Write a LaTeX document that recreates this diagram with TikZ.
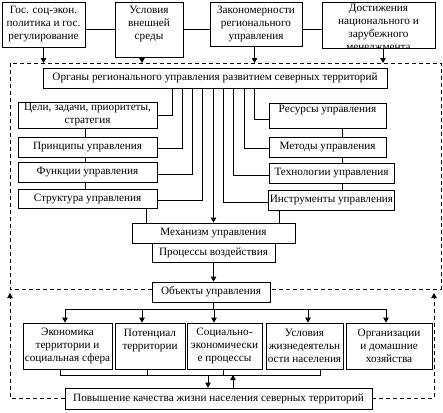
\documentclass[tikz,border=0pt]{standalone}
\usepackage{fontspec}
\setmainfont{Liberation Serif}
\usetikzlibrary{arrows.meta}
\newcommand\fs{\fontsize{11.2}{13}\selectfont}
\tikzset{
  box/.style={draw, inner sep=1pt, align=center, font=\fs},
  txt/.style={inner sep=1pt, align=center, font=\fs},
  arr/.style={-{Triangle[width=5.5pt,length=5pt]}},
  dsh/.style={dash pattern=on 4pt off 3pt}
}
\begin{document}
\begin{tikzpicture}[x=1pt,y=-1pt,line width=0.8pt]
\useasboundingbox (0,0) rectangle (443,412);
% top row
\node[box,minimum width=83,minimum height=45] (b1) at (43.5,24.5) {Гос. соц-экон.\\политика и гос.\\регулирование};
\node[box,minimum width=68,minimum height=55] (b2) at (149,29.5) {Условия\\внешней\\среды\\~};
\node[box,minimum width=92,minimum height=44] (b3) at (256,24) {Закономерности\\регионального\\управления};
\node[box,minimum width=113,minimum height=46] (b4) at (378.5,25) {};
\begin{scope}
\clip (b4.south west) rectangle (b4.north east);
\node[txt,anchor=north] (b4t) at ([yshift=-1pt]b4.north) {Достижения\\национального и\\зарубежного\\менеджмента};
\end{scope}
\draw (b1.east |- b2.west) -- (b2.west);
\draw (b2.east |- b2.west) -- (b3.west |- b2.west);
\draw (b3.east |- b2.west) -- (b4.west |- b2.west);
% dashed frame corners
\coordinate (dTL) at (10,63);
\coordinate (dTR) at (441,63);
\coordinate (fbL) at (10,293);
\coordinate (fbR) at (434,293);
\draw[arr] (b1.south) -- (b1.south |- dTL);
\draw[arr] ([xshift=-7pt]b2.south) -- ([xshift=-7pt]b2.south |- dTL);
\draw[arr] ([xshift=-1.5pt]b3.south) -- ([xshift=-1.5pt]b3.south |- dTL);
\draw[arr] ([xshift=4.5pt]b4.south) -- ([xshift=4.5pt]b4.south |- dTL);
% organs
\node[box,minimum width=344,minimum height=20] (org) at (215,78) {Органы регионального управления развитием северных территорий};
% left column
\node[box,minimum width=139,minimum height=26] (goal) at (87.5,115) {Цели, задачи, приоритеты,\\стратегия};
\node[box,minimum width=139,minimum height=20] (prin) at (87.5,147) {Принципы управления};
\node[box,minimum width=139,minimum height=20] (func) at (87.5,172) {Функции управления};
\node[box,minimum width=139,minimum height=19] (strc) at (87.5,198.5) {Структура управления};
\draw ([xshift=-2.5pt]goal.south) -- ([xshift=-2.5pt]prin.north);
\draw ([xshift=-2.5pt]prin.south) -- ([xshift=-2.5pt]func.north);
\draw ([xshift=-2.5pt]func.south) -- ([xshift=-2.5pt]strc.north);
% right column
\node[box,minimum width=117,minimum height=25] (res) at (327.5,115.5) {Ресурсы управления\\~};
\node[box,minimum width=117,minimum height=20] (meth) at (327.5,147) {Методы управления};
\node[box,minimum width=125,minimum height=20] (tech) at (331.5,173) {Технологии управления};
\node[box,minimum width=125,minimum height=20] (inst) at (331.5,200) {Инструменты управления};
\draw ([xshift=14.5pt]res.south) -- ([xshift=14.5pt]res.south |- meth.north);
\draw ([xshift=14.5pt]meth.south) -- ([xshift=14.5pt]meth.south |- tech.north);
\draw ([xshift=10.5pt]tech.south) -- ([xshift=10.5pt]inst.north);
% organ connectors
\draw ([xshift=-43pt]org.south) |- (goal.east);
\draw ([xshift=-33pt]org.south) |- ([yshift=-1pt]prin.east);
\draw ([xshift=-23pt]org.south) |- ([yshift=-2pt]func.east);
\draw ([xshift=-13pt]org.south) |- ([yshift=-2pt]strc.east);
\draw ([xshift=39pt]org.south) |- ([yshift=-4pt]res.west);
\draw ([xshift=29pt]org.south) |- ([yshift=-1pt]meth.west);
\draw ([xshift=18pt]org.south) |- ([yshift=-2pt]tech.west);
\draw ([xshift=8pt]org.south) |- ([yshift=-2pt]inst.west);
% mechanism
\node[box,minimum width=163,minimum height=20] (mech) at (213.5,233) {Механизм управления};
\node[box,minimum width=123,minimum height=19] (proc) at (213.5,252.5) {Процессы воздействия};
\draw[arr] (org.south -| mech.north) -- (mech.north);
\draw ([xshift=58.5pt]strc.south) -- ([xshift=58.5pt]strc.south |- mech.north);
\draw ([xshift=-52.5pt]inst.south) -- ([xshift=-52.5pt]inst.south |- mech.north);
% objects
\node[box,minimum width=118,minimum height=20] (obj) at (211,292) {Объекты управления};
\draw[arr] (proc.south) -- (proc.south |- obj.north);
\draw[dsh] ([yshift=3pt]obj.west) -| (dTL) -- (dTR) |- ([yshift=3pt]obj.east);
% bottom boxes
\node[box,minimum width=89,minimum height=46] (eco) at (67.5,346) {Экономика\\территории и\\социальная сфера};
\node[box,minimum width=70,minimum height=46] (pot) at (150,346) {Потенциал\\территории\\~};
\node[box,minimum width=75,minimum height=46] (soc) at (224.5,346) {Социально-\\экономически\\е процессы};
\node[box,minimum width=77,minimum height=46] (uslz) at (304.5,346) {Условия\\жизнедеятельн\\ости населения};
\node[box,minimum width=86,minimum height=46] (orgh) at (389,346) {Организации\\и домашние\\хозяйства};
\coordinate (busT) at (0,309);
\coordinate (busB) at (0,375);
\draw ([xshift=2pt]obj.south) -- ([xshift=2pt]obj.south |- busT);
\draw ([xshift=-2.5pt]eco.north |- busT) -- ([xshift=-3pt]orgh.north |- busT);
\draw[arr] ([xshift=-2.5pt]eco.north |- busT) -- ([xshift=-2.5pt]eco.north);
\draw[arr] ([xshift=-8pt]pot.north |- busT) -- ([xshift=-8pt]pot.north);
\draw[arr] ([xshift=-10.5pt]soc.north |- busT) -- ([xshift=-10.5pt]soc.north);
\draw[arr] ([xshift=3.5pt]uslz.north |- busT) -- ([xshift=3.5pt]uslz.north);
\draw[arr] ([xshift=-3pt]orgh.north |- busT) -- ([xshift=-3pt]orgh.north);
% lower bus
\draw ([xshift=-7.5pt]eco.south) -- ([xshift=-7.5pt]eco.south |- busB) -- ([xshift=15.5pt]uslz.south |- busB) -- ([xshift=15.5pt]uslz.south);
\draw ([xshift=-3pt]pot.south) -- ([xshift=-3pt]pot.south |- busB);
\draw ([xshift=-1.5pt]soc.south) -- ([xshift=-1.5pt]soc.south |- busB);
% result
\node[box,minimum width=307,minimum height=21] (pov) at (218.5,398.5) {Повышение качества жизни населения северных территорий};
\draw[arr] ([xshift=-10.5pt]pov.north |- busB) -- ([xshift=-10.5pt]pov.north);
\draw[arr] ([xshift=14.5pt]pov.north) -- ([xshift=14.5pt]pov.north |- busB);
\draw[dsh,arr] (pov.west) -| (fbL);
\draw[dsh,arr] (pov.east) -| (fbR);
\end{tikzpicture}
\end{document}
